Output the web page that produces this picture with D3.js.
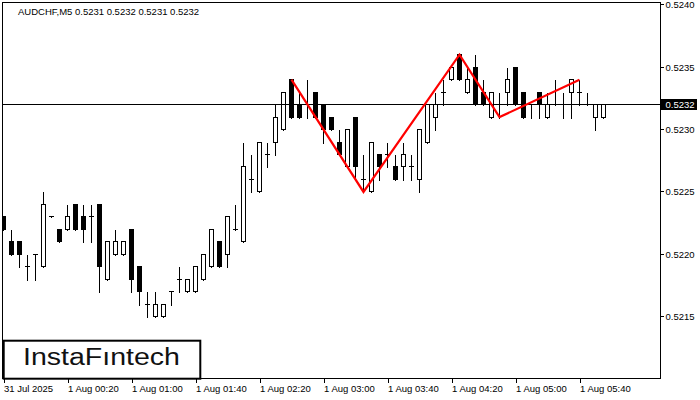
<!DOCTYPE html>
<html><head><meta charset="utf-8">
<script src="https://cdn.jsdelivr.net/npm/d3@7"></script>
<style>body{margin:0;background:#fff}svg{display:block}text{font-family:"Liberation Sans",Arial,sans-serif}</style>
</head><body><svg id="c" width="700" height="400"></svg>
<script>
const symbol = "AUDCHF,M5";
const headerValues = ["0.5231","0.5232","0.5231","0.5232"];
const open  = [.5223,.5221,.5221,.5219,.5220,.5219,.5223,.5222,.5222,.5224,.5223,.5223,.5224,.5218,.5220,.5220,.5222,.5219,.5216,.5215,.5215,.5217,.5218,.5217,.5217,.5218,.5219,.5221,.5220,.5222,.5221,.5226,.5225,.5228,.5229,.5230,.5234,.5232,.5232,.5233,.5232,.5231,.5229,.5227,.5231,.5226,.5225,.5228,.5228,.5227,.5227,.5227,.5226,.5229,.5231,.5233,.5234,.5236,.5233,.5235,.5233,.5231,.5232,.5233,.5235,.5233,.5232,.5233,.5231,.5232,.5232,.5233,.5233,.5232,.5231,.5231];
const high  = [.5223,.5222,.5221,.5220,.5220,.5225,.5223,.5222,.5224,.5224,.5224,.5224,.5224,.5221,.5222,.5221,.5222,.5219,.5217,.5217,.5216,.5217,.5219,.5218,.5219,.5220,.5222,.5221,.5223,.5224,.5229,.5228,.5229,.5229,.5232,.5233,.5234,.5233,.5234,.5233,.5232,.5231,.5230,.5230,.5231,.5228,.5229,.5228,.5229,.5228,.5229,.5228,.5230,.5232,.5233,.5234,.5235,.5236,.5235,.5236,.5234,.5233,.5233,.5235,.5235,.5233,.5232,.5233,.5233,.5234,.5233,.5234,.5234,.5233,.5232,.5232];
const low   = [.5222,.5220,.5219,.5218,.5218,.5219,.5223,.5221,.5222,.5222,.5221,.5221,.5217,.5218,.5220,.5220,.5217,.5216,.5215,.5215,.5215,.5216,.5217,.5217,.5217,.5218,.5219,.5219,.5219,.5222,.5221,.5225,.5225,.5227,.5228,.5230,.5231,.5231,.5231,.5231,.5229,.5230,.5228,.5227,.5226,.5225,.5225,.5226,.5227,.5226,.5226,.5226,.5225,.5229,.5230,.5232,.5234,.5234,.5233,.5232,.5232,.5231,.5231,.5232,.5232,.5231,.5231,.5231,.5231,.5232,.5231,.5231,.5232,.5232,.5230,.5231];
const close = [.5222,.5220,.5220,.5219,.5220,.5224,.5223,.5221,.5223,.5222,.5222,.5223,.5219,.5221,.5221,.5221,.5218,.5217,.5216,.5216,.5216,.5217,.5218,.5218,.5219,.5220,.5222,.5219,.5223,.5222,.5227,.5226,.5229,.5228,.5231,.5233,.5231,.5231,.5232,.5231,.5230,.5230,.5228,.5230,.5227,.5226,.5229,.5227,.5228,.5226,.5228,.5227,.5230,.5232,.5232,.5233,.5235,.5234,.5234,.5232,.5232,.5233,.5232,.5234,.5232,.5231,.5232,.5232,.5232,.5232,.5232,.5234,.5233,.5232,.5232,.5232];
const xTickIdx = [0,8,16,24,32,40,48,56,64,72];
const xTickLabels = ["31 Jul 2025","1 Aug 00:20","1 Aug 01:00","1 Aug 01:40","1 Aug 02:20","1 Aug 03:00","1 Aug 03:40","1 Aug 04:20","1 Aug 05:00","1 Aug 05:40"];
const yTicks = [0.5215,0.5220,0.5225,0.5230,0.5235,0.5240];
const lastPrice = 0.5232;
const patternIdx = [36,45,57,62,72];
const patternPrice = [0.5234,0.5225,0.5236,0.5231,0.5234];
const logoText = "InstaFıntech";

const svg = d3.select("#c");
svg.append("rect").attr("width",700).attr("height",400).attr("fill","#fff");
const x = d3.scaleLinear().domain([0, open.length-1]).range([3.5, 603.5]);
const y = d3.scaleLinear().domain([0.5215, 0.5240]).range([316.7, 4.8]);
const py = p => Math.floor(y(p)) + 0.5;

svg.append("clipPath").attr("id","plot").append("rect").attr("x",3).attr("y",3).attr("width",657).attr("height",375);
const g = svg.append("g").attr("clip-path","url(#plot)");

const data = open.map((o,i)=>({i,o,h:high[i],l:low[i],c:close[i]}));
const cg = g.selectAll("g.cdl").data(data).join("g").attr("class","cdl");
cg.append("line")
  .attr("x1",d=>x(d.i)).attr("x2",d=>x(d.i))
  .attr("y1",d=>py(d.h)).attr("y2",d=>py(d.l)+1)
  .attr("stroke","#000").attr("stroke-width",1).attr("shape-rendering","crispEdges");
cg.filter(d=>d.o!==d.c).append("rect")
  .attr("x",d=>x(d.i)-2).attr("width",4)
  .attr("y",d=>py(Math.max(d.o,d.c)))
  .attr("height",d=>py(Math.min(d.o,d.c))-py(Math.max(d.o,d.c)))
  .attr("fill",d=>d.c>d.o?"#fff":"#000").attr("stroke","#000").attr("stroke-width",1)
  .attr("shape-rendering","crispEdges");
cg.filter(d=>d.o===d.c).append("line")
  .attr("x1",d=>x(d.i)-2.5).attr("x2",d=>x(d.i)+2.5)
  .attr("y1",d=>py(d.o)).attr("y2",d=>py(d.o))
  .attr("stroke","#000").attr("stroke-width",1).attr("shape-rendering","crispEdges");

// current price line
g.append("line").attr("x1",3).attr("x2",660).attr("y1",py(lastPrice)).attr("y2",py(lastPrice))
  .attr("stroke","#000").attr("stroke-width",1).attr("shape-rendering","crispEdges");

// pattern line
const pts = patternIdx.map((k,i)=>[x(k), y(patternPrice[i])]);
g.append("path").attr("d", d3.line()(pts)).attr("fill","none").attr("stroke","#ff0000").attr("stroke-width",2.2);

// frame
svg.append("rect").attr("x",2.5).attr("y",2.5).attr("width",658).attr("height",376)
  .attr("fill","none").attr("stroke","#000").attr("stroke-width",1).attr("shape-rendering","crispEdges");

// bottom axis
const xa = svg.append("g").attr("transform","translate(0,378.5)")
  .call(d3.axisBottom(x).tickValues(xTickIdx).tickFormat((d,i)=>xTickLabels[i]).tickSize(4).tickSizeOuter(0));
xa.select(".domain").remove();
xa.selectAll("line").attr("stroke","#000").attr("shape-rendering","crispEdges");
xa.selectAll("text").attr("text-anchor","start").attr("x",0).attr("y",13).attr("dy",0)
  .attr("font-size",9.5).attr("font-family","Liberation Sans, Arial, sans-serif").attr("fill","#000");

// right axis
const ya = svg.append("g").attr("transform","translate(660.5,0)")
  .call(d3.axisRight(y).tickValues(yTicks).tickFormat(d3.format(".4f")).tickSize(3).tickSizeOuter(0));
ya.select(".domain").remove();
ya.selectAll(".tick").attr("transform",d=>`translate(0,${py(d)})`);
ya.selectAll("line").attr("stroke","#000").attr("shape-rendering","crispEdges");
ya.selectAll("text").attr("x",5).attr("dy","0.33em")
  .attr("font-size",9.5).attr("font-family","Liberation Sans, Arial, sans-serif").attr("fill","#000");

// current price label
svg.append("rect").attr("x",661).attr("y",py(lastPrice)-5.5).attr("width",36).attr("height",11).attr("fill","#000");
svg.append("text").attr("x",665.5).attr("y",py(lastPrice)).attr("dy","0.35em")
  .attr("font-size",9.5).attr("fill","#fff").text(d3.format(".4f")(lastPrice));

// header
svg.append("text").attr("x",18).attr("y",15).attr("font-size",9.5).attr("fill","#000")
  .text(symbol + "  " + headerValues.join(" "));

// logo
svg.append("rect").attr("x",3.7).attr("y",340.7).attr("width",196.6).attr("height",38)
  .attr("fill","#fff").attr("stroke","#000").attr("stroke-width",2);
svg.append("text").attr("x",23).attr("y",364.5).attr("font-size",23).attr("font-weight",500)
  .attr("font-family","Inter, 'Open Sans', sans-serif").attr("fill","#111")
  .attr("textLength",157).attr("lengthAdjust","spacingAndGlyphs").text(logoText);
</script></body></html>
